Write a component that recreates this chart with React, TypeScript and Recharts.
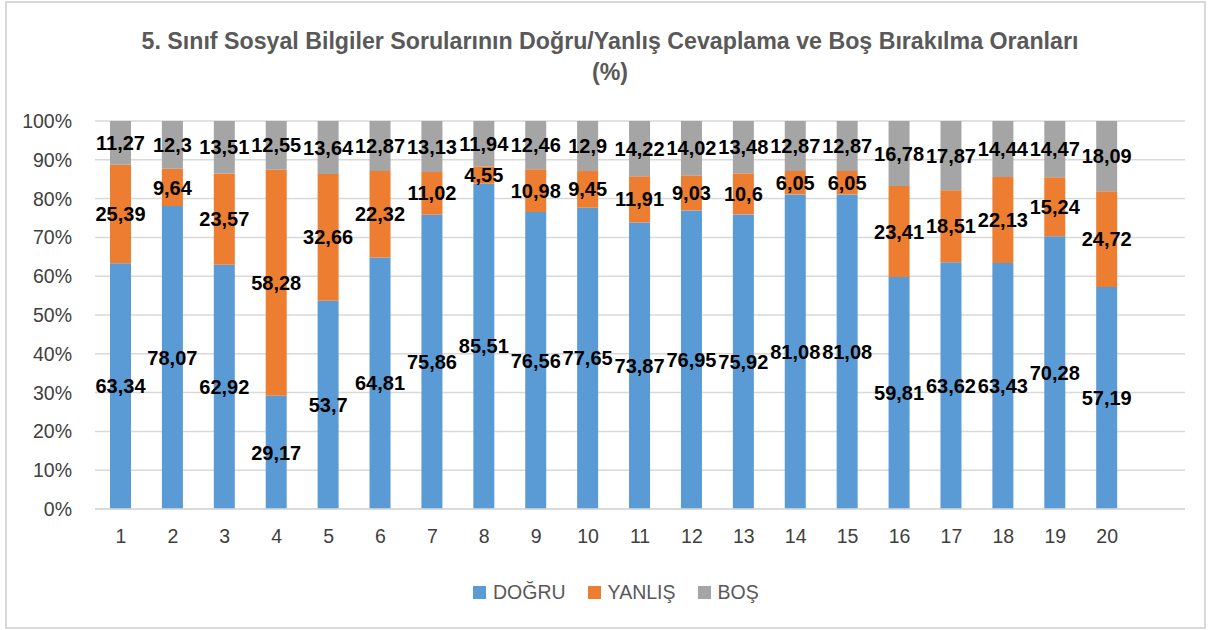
import React from 'react';
import { BarChart, Bar, XAxis, YAxis, CartesianGrid, LabelList } from 'recharts';

const categories = ['1','2','3','4','5','6','7','8','9','10','11','12','13','14','15','16','17','18','19','20',''];
const dogru = [63.34,78.07,62.92,29.17,53.7,64.81,75.86,85.51,76.56,77.65,73.87,76.95,75.92,81.08,81.08,59.81,63.62,63.43,70.28,57.19,null];
const yanlis = [25.39,9.64,23.57,58.28,32.66,22.32,11.02,4.55,10.98,9.45,11.91,9.03,10.6,6.05,6.05,23.41,18.51,22.13,15.24,24.72,null];
const bos = [11.27,12.3,13.51,12.55,13.64,12.87,13.13,11.94,12.46,12.9,14.22,14.02,13.48,12.87,12.87,16.78,17.87,14.44,14.47,18.09,null];
const yTicks = [0,0.1,0.2,0.3,0.4,0.5,0.6,0.7,0.8,0.9,1];

const seriesNames = ['DOĞRU','YANLIŞ','BOŞ'];
const colors = ['#5B9BD5','#ED7D31','#A5A5A5'];

const data = categories.map((c, i) => ({ cat: c, dogru: dogru[i], yanlis: yanlis[i], bos: bos[i] }));

const FONT = '"Liberation Sans", Arial, sans-serif';
const fmt = (v: any) => (v === null || v === undefined ? '' : String(v).replace('.', ','));

export default function App() {
  const labelStyle = { fill: '#000', fontWeight: 700, fontSize: 20, fontFamily: FONT };
  return (
    <div style={{ position: 'absolute', left: 0, top: 0, width: 1208, height: 630, background: '#fff', fontFamily: FONT }}>
      <div style={{ position: 'absolute', left: 5, top: 1, width: 1197, height: 624, border: '2px solid #D9D9D9' }} />
      <div style={{ position: 'absolute', left: 12, top: 26, width: 1196, textAlign: 'center', color: '#595959', fontWeight: 700, fontSize: 23.2, lineHeight: '31px' }}>
        5. Sınıf Sosyal Bilgiler Sorularının Doğru/Yanlış Cevaplama ve Boş Bırakılma Oranları<br />(%)
      </div>
      <div style={{ position: 'absolute', left: 0, top: 0 }}>
        <BarChart width={1208} height={630} data={data} stackOffset="expand" margin={{ top: 121, right: 23, bottom: 81, left: 15 }} barSize={21}>
          <CartesianGrid vertical={false} stroke="#D9D9D9" strokeWidth={1.5} />
          <XAxis dataKey="cat" axisLine={{ stroke: '#D9D9D9', strokeWidth: 1.5 }} tickLine={false} tickSize={0} tickMargin={20} height={40} interval={0}
            tick={{ fill: '#404040', fontSize: 19.5, fontFamily: FONT }} />
          <YAxis ticks={yTicks} domain={[0, 1]} axisLine={false} tickLine={false} tickSize={0} tickMargin={23} width={80} interval={0}
            tickFormatter={(v: number) => `${Math.round(v * 100)}%`} tick={{ fill: '#404040', fontSize: 19.5, fontFamily: FONT }} />
          <Bar dataKey="dogru" stackId="a" fill={colors[0]} isAnimationActive={false}>
            <LabelList dataKey="dogru" position="center" formatter={fmt} style={labelStyle} />
          </Bar>
          <Bar dataKey="yanlis" stackId="a" fill={colors[1]} isAnimationActive={false}>
            <LabelList dataKey="yanlis" position="center" formatter={fmt} style={labelStyle} />
          </Bar>
          <Bar dataKey="bos" stackId="a" fill={colors[2]} isAnimationActive={false}>
            <LabelList dataKey="bos" position="center" formatter={fmt} style={labelStyle} />
          </Bar>
        </BarChart>
      </div>
      <div style={{ position: 'absolute', left: 473, top: 580, height: 24, display: 'flex', alignItems: 'center', color: '#595959', fontSize: 19.5 }}>
        {seriesNames.map((n, i) => (
          <div key={n} style={{ display: 'flex', alignItems: 'center', marginRight: 22 }}>
            <div style={{ width: 13, height: 13, background: colors[i], marginRight: 7 }} />
            <span>{n}</span>
          </div>
        ))}
      </div>
    </div>
  );
}
